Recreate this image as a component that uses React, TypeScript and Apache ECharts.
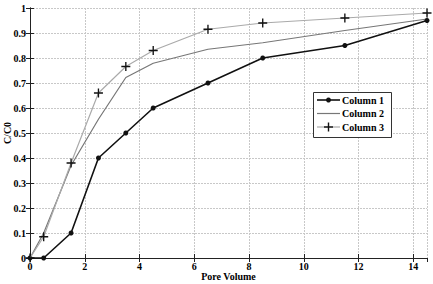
import React, { useEffect, useRef } from "react";
import * as echarts from "echarts";

const poreVolume = [0, 0.5, 1.5, 2.5, 3.5, 4.5, 6.5, 8.5, 11.5, 14.5];
const column1 = [0, 0, 0.1, 0.4, 0.5, 0.6, 0.7, 0.8, 0.85, 0.95];
const column2 = [0, 0.1, 0.37, 0.555, 0.722, 0.779, 0.835, 0.861, 0.91, 0.956];
const column3 = [0, 0.085, 0.38, 0.66, 0.766, 0.83, 0.915, 0.94, 0.96, 0.98];
const seriesNames = ["Column 1", "Column 2", "Column 3"];

const FONT = "'Liberation Serif', 'Times New Roman', serif";
const PLUS = "path://M8.5,0h3v8.5h8.5v3h-8.5v8.5h-3v-8.5h-8.5v-3h8.5z";
const COLORS = ["#111", "#777", "#aaa"];

const pairs = (ys: number[]) => poreVolume.map((x, i) => [x, ys[i]]);

export default function App() {
  const ref = useRef<HTMLDivElement>(null);
  useEffect(() => {
    if (!ref.current) return;
    const chart = echarts.init(ref.current, null, { renderer: "svg" });
    const axisLine = { show: true, lineStyle: { color: "#222", width: 1 } };
    const tick = { show: true, inside: true, length: 4, lineStyle: { color: "#222" } };
    const label = { color: "#000", fontFamily: FONT, fontWeight: "bold" as const, fontSize: 10, lineHeight: 10 };
    const split = { show: true, lineStyle: { color: "#c8c8c8", type: [2, 1], width: 1 } };

    // legend drawn as graphic (box at 313..391 x 92..137)
    const lx = 313, ly = 92, lw = 78, lh = 45;
    const rowY = [100, 113.5, 127];
    const legendEls: any[] = [
      { type: "rect", shape: { x: lx + 0.5, y: ly + 0.5, width: lw, height: lh }, style: { fill: "#fff", stroke: "#333", lineWidth: 1 }, z: 10 },
    ];
    seriesNames.forEach((n, i) => {
      const y = rowY[i];
      legendEls.push({ type: "line", shape: { x1: 317, y1: y, x2: 340, y2: y }, style: { stroke: COLORS[i], lineWidth: i === 0 ? 1.6 : 1.2 }, z: 11 });
      legendEls.push({ type: "text", x: 342, y, style: { text: n, fill: "#000", font: `bold 10px ${FONT}`, verticalAlign: "middle", align: "left" }, z: 11 });
    });
    legendEls.push({ type: "circle", shape: { cx: 328.5, cy: rowY[0], r: 2.5 }, style: { fill: "#111" }, z: 12 });
    legendEls.push({ type: "line", shape: { x1: 324, y1: rowY[2], x2: 333, y2: rowY[2] }, style: { stroke: "#111", lineWidth: 1.4 }, z: 12 });
    legendEls.push({ type: "line", shape: { x1: 328.5, y1: rowY[2] - 4.5, x2: 328.5, y2: rowY[2] + 4.5 }, style: { stroke: "#111", lineWidth: 1.4 }, z: 12 });

    chart.setOption({
      animation: false,
      backgroundColor: "#fff",
      grid: { left: 30, right: 6, top: 8, bottom: 26, containLabel: false, outerBoundsMode: "none" },
      graphic: legendEls,
      xAxis: [
        {
          type: "value",
          min: 0,
          max: 14.5,
          interval: 2,
          name: "Pore Volume",
          nameLocation: "middle",
          nameGap: 13,
          nameMoveOverlap: false,
          nameTextStyle: label,
          axisLine,
          axisTick: tick,
          axisLabel: { ...label, margin: 3, showMaxLabel: false },
          splitLine: split,
        },
        {
          type: "value",
          position: "top",
          min: 0,
          max: 14.5,
          interval: 2,
          axisLine,
          axisTick: tick,
          axisLabel: { show: false },
          splitLine: { show: false },
        },
      ],
      yAxis: [
        {
          type: "value",
          min: 0,
          max: 1,
          interval: 0.1,
          name: "C/C0",
          nameLocation: "middle",
          nameRotate: 90,
          nameGap: 18,
          nameMoveOverlap: false,
          nameTextStyle: label,
          axisLine,
          axisTick: tick,
          axisLabel: { ...label, margin: 4, formatter: (v: number) => String(Math.round(v * 10) / 10) },
          splitLine: split,
        },
        {
          type: "value",
          position: "right",
          min: 0,
          max: 1,
          interval: 0.1,
          axisLine,
          axisTick: tick,
          axisLabel: { show: false },
          splitLine: { show: false },
        },
      ],
      series: [
        {
          name: seriesNames[0],
          type: "line",
          data: pairs(column1),
          symbol: "circle",
          symbolSize: 5,
          itemStyle: { color: COLORS[0] },
          lineStyle: { color: COLORS[0], width: 1.6 },
          z: 3,
        },
        {
          name: seriesNames[1],
          type: "line",
          data: pairs(column2),
          symbol: "none",
          itemStyle: { color: COLORS[1] },
          lineStyle: { color: COLORS[1], width: 1.2 },
          z: 2,
        },
        {
          name: seriesNames[2],
          type: "line",
          data: pairs(column3),
          symbol: PLUS,
          symbolSize: 9,
          itemStyle: { color: "#111" },
          lineStyle: { color: COLORS[2], width: 1.2 },
          z: 4,
        },
      ],
    });
    return () => chart.dispose();
  }, []);
  return <div ref={ref} style={{ width: 433, height: 284, position: "absolute", left: 0, top: 0 }} />;
}
